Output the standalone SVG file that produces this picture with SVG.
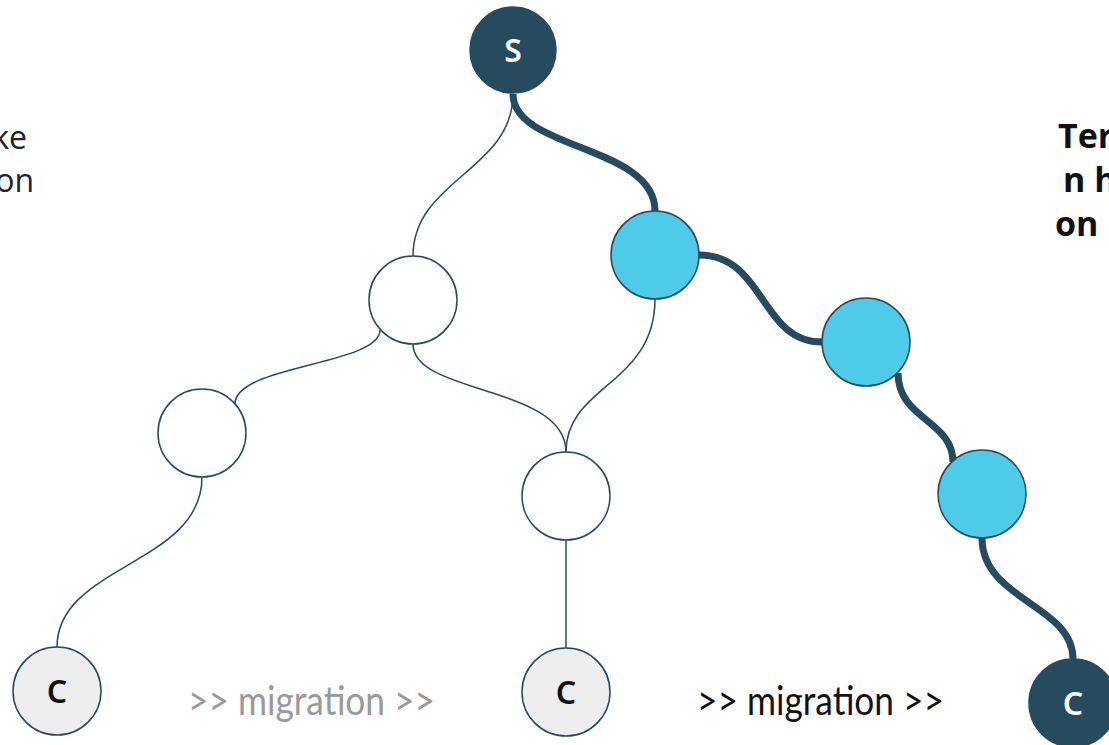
<svg xmlns="http://www.w3.org/2000/svg" width="1109" height="745" viewBox="0 0 1109 745">
<style>
.n{stroke:#264a5e;stroke-width:1.5}
.w{fill:#ffffff}
.b{fill:#4ecbe8}
.g{fill:#eeeeee}
.d{fill:#264a5e}
.thin{fill:none;stroke:#264a5e;stroke-width:1.5}
.thick{fill:none;stroke:#264a5e;stroke-width:7}
.lbl{font-family:"Noto Sans","Lato",sans-serif;font-size:32px;font-weight:600;text-anchor:middle}
.side{font-family:"Open Sans","Noto Sans",sans-serif;font-size:32px;fill:#222}
.sideb{font-family:"Open Sans","Noto Sans",sans-serif;font-size:34px;font-weight:bold;fill:#111}
.mig{font-family:"Lato","Noto Sans",sans-serif;font-size:40px}
</style>
<rect width="1109" height="745" fill="#ffffff"/>
<g id="connectors">
<path class="thin" d="M513,94 C513,170 413,180 413,256"/>
<path class="thin" d="M380,330 C380,365 235,365 235,404"/>
<path class="thin" d="M413,344 C413,395 566,385 566,452"/>
<path class="thin" d="M655,299 C655,385 566,385 566,452"/>
<path class="thin" d="M202,477 C202,565 57,565 57,647"/>
<path class="thin" d="M566,540 L566,648"/>
<path class="thick" d="M513,94 C513,150 655,145 655,211"/>
<path class="thick" d="M699,255 C765,255 760,342 822,342"/>
<path class="thick" d="M898,373 C898,420 953,420 953,462"/>
<path class="thick" d="M982,538 C982,600 1073,605 1073,659"/>
</g>
<g id="node-s"><circle class="n d" cx="513" cy="50" r="43"/><text class="lbl" x="513" y="62" fill="#ffffff">S</text></g>
<g id="node-a"><circle class="n w" cx="413" cy="300" r="44"/></g>
<g id="node-b1"><circle class="n b" cx="655" cy="255" r="44"/></g>
<g id="node-b2"><circle class="n b" cx="866" cy="342" r="44"/></g>
<g id="node-b3"><circle class="n b" cx="982" cy="494" r="44"/></g>
<g id="node-l"><circle class="n w" cx="202" cy="433" r="44"/></g>
<g id="node-m"><circle class="n w" cx="566" cy="496" r="44"/></g>
<g id="node-c1"><circle class="n g" cx="57" cy="691" r="44"/><text class="lbl" x="57" y="703" fill="#111">C</text></g>
<g id="node-c2"><circle class="n g" cx="566" cy="692" r="44"/><text class="lbl" x="566" y="704" fill="#111">C</text></g>
<g id="node-c3"><circle class="n d" cx="1073" cy="703" r="44"/><text class="lbl" x="1073" y="715" fill="#ffffff">C</text></g>
<g id="texts">
<text class="side" x="27" y="149" text-anchor="end">ke</text>
<text class="side" x="34" y="192" text-anchor="end">on</text>
<text class="sideb" x="1058" y="148">Ter</text>
<text class="sideb" x="1063" y="192">n h</text>
<text class="sideb" x="1055" y="236">on</text>
<text class="mig" x="188" y="715" fill="#999999" textLength="247" lengthAdjust="spacingAndGlyphs">&gt;&gt; migration &gt;&gt;</text>
<text class="mig" x="697" y="715" fill="#111111" textLength="247" lengthAdjust="spacingAndGlyphs">&gt;&gt; migration &gt;&gt;</text>
</g>
</svg>
